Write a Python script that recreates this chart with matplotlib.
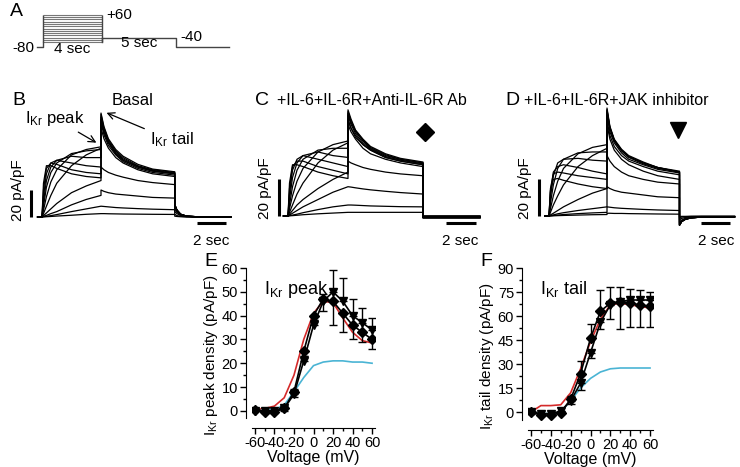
import matplotlib
matplotlib.use("Agg")
import matplotlib.pyplot as plt
from matplotlib.ticker import MultipleLocator

plt.rcParams['font.family'] = ['Liberation Sans', 'DejaVu Sans']
plt.rcParams['mathtext.default'] = 'regular'
plt.rcParams['axes.unicode_minus'] = False

# ---- panel A: voltage protocol ----
hold_v = -80
step_levels = [-60, -50, -40, -30, -20, -10, 0, 10, 20, 30, 40, 50, 60]
tail_v = -40
step_dur = 4.0
tail_dur = 5.0

# ---- panels B-D: current traces (pA/pF), one row per step voltage +60 ... -40 ----
hold_t = [-0.3, 0.0]
step_t = [0.0, 0.1, 0.3, 0.6, 1.0, 2.0, 3.0, 4.0]
tail_t = [4.0, 4.2, 4.5, 5.0, 5.5, 6.5, 7.5, 9.0]
post_t = [9.0, 9.15, 9.4, 9.8, 10.5, 12.8]

basal_step = [
    [0, 25, 38, 38, 36, 32, 30, 29],
    [0, 20, 36, 40, 39, 35, 33, 32],
    [0, 15, 32, 40, 42, 40, 38, 37],
    [0, 11, 27, 37, 42, 45, 44, 44],
    [0, 8, 22, 33, 40, 47, 49, 50],
    [0, 5, 15, 26, 35, 46, 50, 52],
    [0, 2.5, 8, 16, 25, 38, 46, 51],
    [0, 1, 3, 6, 10, 18, 23, 27],
    [0, 0.5, 1.2, 2.5, 4, 9, 13, 16],
    [0, 0.2, 0.5, 1, 1.8, 4, 6, 8],
    [0, 0.1, 0.2, 0.4, 0.7, 1.3, 2, 2.5],
]
basal_tail = [
    [66, 58, 51, 44, 40, 35, 32, 30],
    [70, 61, 53, 46, 41, 36, 33, 31],
    [72, 63, 55, 47, 42, 37, 34, 32],
    [74, 65, 56, 48, 43, 37.5, 34.5, 32.5],
    [76, 66, 57, 49, 44, 38, 35, 33],
    [77, 67, 58, 50, 45, 39, 35.5, 33.5],
    [72, 63, 55, 47, 42, 37, 34, 32],
    [37, 35, 33, 31, 29.5, 27, 25.5, 24],
    [20, 19, 18, 17, 16.5, 15.5, 14.5, 14],
    [8, 7.8, 7.5, 7, 6.7, 6.2, 5.8, 5.4],
    [2.5, 2.5, 2.4, 2.3, 2.2, 2.1, 2.0, 1.9],
]
basal_post = [
    [9, 5, 2, 0.6, 0.2, 0],
    [9, 5, 2, 0.6, 0.2, 0],
    [9, 5, 2, 0.6, 0.2, 0],
    [9, 5, 2, 0.6, 0.2, 0],
    [9, 5, 2, 0.6, 0.2, 0],
    [9, 5, 2, 0.6, 0.2, 0],
    [9, 5, 2, 0.6, 0.2, 0],
    [6, 3.5, 1.5, 0.5, 0.1, 0],
    [4, 2.5, 1, 0.3, 0, 0],
    [2, 1, 0.5, 0.2, 0, 0],
    [0.6, 0.4, 0.2, 0, 0, 0],
]

ab_step = [
    [0, 18, 28, 28, 27, 24, 22, 20.5],
    [0, 15, 27, 30, 30, 27, 25, 23],
    [0, 12, 25, 31, 33, 31, 29, 27],
    [0, 9, 21, 29, 33, 35, 33, 32],
    [0, 6, 16, 25, 31, 36, 37, 37],
    [0, 4, 11, 19, 26, 35, 39, 41],
    [0, 2, 6, 12, 18, 29, 36, 40],
    [0, 1, 3, 6, 9, 15, 20, 24],
    [0, 0.5, 1.5, 3, 5, 9, 13, 16],
    [0, 0.2, 0.5, 1, 1.8, 3.5, 5, 6],
    [0, 0.1, 0.2, 0.4, 0.7, 1.2, 1.6, 2],
]
ab_tail = [
    [50, 46, 42, 37, 34, 31, 29, 27],
    [53, 48, 44, 39, 36, 32, 30, 28],
    [55, 50, 45, 40, 36.5, 32.5, 30.5, 28.5],
    [56, 51, 46, 41, 37, 33, 31, 29],
    [57, 52, 46.5, 41.5, 37.5, 33.5, 31, 29],
    [58, 53, 47, 42, 38, 34, 31.5, 29.5],
    [52, 48, 43, 39, 36, 32, 30, 28],
    [30, 29, 28, 26.5, 25.5, 24, 23, 22],
    [16, 15.8, 15.4, 14.8, 14.3, 13.5, 12.8, 12],
    [6, 6, 5.9, 5.7, 5.5, 5.3, 5.1, 5],
    [2, 2, 2, 2, 2, 2, 2, 2],
]
ab_post = [
    [-1, -1, -1, -1, -1, -1],
    [-1, -1, -1, -1, -1, -1],
    [-1, -1, -1, -1, -1, -1],
    [-0.8, -0.8, -0.8, -0.8, -0.8, -0.8],
    [-0.8, -0.8, -0.8, -0.8, -0.8, -0.8],
    [-0.6, -0.6, -0.6, -0.6, -0.6, -0.6],
    [-0.6, -0.6, -0.6, -0.6, -0.6, -0.6],
    [-0.4, -0.4, -0.4, -0.4, -0.4, -0.4],
    [-0.2, -0.2, -0.2, -0.2, -0.2, -0.2],
    [0, 0, 0, 0, 0, 0],
    [0, 0, 0, 0, 0, 0],
]

jak_step = [
    [0, 14, 20, 20.5, 19.5, 17.5, 16, 15],
    [0, 15, 23, 24, 23.5, 22, 21, 20],
    [0, 13, 24, 27, 28, 26.5, 24.5, 23],
    [0, 10, 22, 29, 31, 31.5, 30.5, 30],
    [0, 7, 17, 26, 31, 34.5, 35, 35],
    [0, 4, 11, 19, 26, 34, 37.5, 39],
    [0, 2, 6, 11, 17, 27, 33, 37],
    [0, 0.6, 1.5, 3, 5, 9, 12.5, 15],
    [0, 0.3, 0.6, 1.2, 1.8, 3, 4, 5],
    [0, 0.1, 0.3, 0.5, 0.8, 1.3, 1.7, 2],
    [0, 0, 0.1, 0.2, 0.3, 0.5, 0.7, 0.8],
]
jak_tail = [
    [52, 44, 38, 33, 30, 27, 24.5, 22.5],
    [55, 46, 40, 34.5, 31, 28, 25.5, 23.5],
    [57, 48, 41, 35.5, 32, 28.5, 26, 24],
    [58, 48.5, 41.5, 36, 32.5, 29, 26.5, 24],
    [59, 49, 42, 36.5, 33, 29.5, 26.5, 24.5],
    [58, 48, 41.5, 36, 32.5, 29, 26.5, 24],
    [50, 42, 36, 31, 28, 24.5, 22, 20],
    [33, 30, 27, 24, 22, 20, 18.5, 17.5],
    [16, 15, 14, 13, 12.5, 11.5, 10.5, 10],
    [5, 4.8, 4.5, 4.2, 4, 3.6, 3.3, 3],
    [1.5, 1.5, 1.4, 1.4, 1.3, 1.2, 1.1, 1],
]
jak_post = [
    [-5, -3, -1.8, -1, -0.6, -0.5],
    [-5, -3, -1.8, -1, -0.6, -0.5],
    [-5, -3, -1.8, -1, -0.6, -0.5],
    [-5, -3, -1.8, -1, -0.6, -0.5],
    [-5, -3, -1.8, -1, -0.6, -0.5],
    [-5, -3, -1.8, -1, -0.6, -0.5],
    [-4.5, -2.8, -1.6, -0.9, -0.6, -0.5],
    [-3.5, -2.2, -1.3, -0.8, -0.5, -0.4],
    [-2, -1.3, -0.8, -0.5, -0.3, -0.3],
    [-1, -0.6, -0.4, -0.3, -0.2, -0.2],
    [-0.3, -0.2, -0.2, -0.1, -0.1, -0.1],
]

# ---- panels E, F: I-V relations ----
voltages = [-60, -50, -40, -30, -20, -10, 0, 10, 20, 30, 40, 50, 60]

peak_basal = [0.5, 1, 2, 5.5, 15, 30, 41, 46, 45.5, 39, 33, 29.5, 28.5]
peak_il6 = [0.2, 0.2, 0.5, 2.5, 8, 14, 19, 20.5, 21, 21, 20.5, 20.5, 20]
peak_ab = [0.5, -0.5, -0.5, 1, 8, 25, 40, 47, 46, 41, 36, 33, 30]
peak_ab_sem = [0.5, 0.5, 0.5, 1, 2, 2, 2, 5, 10, 8, 6, 4, 4]
peak_jak = [0, 0, 0, 1, 7, 21, 36, 46, 50, 46, 40, 37, 34]
peak_jak_sem = [0.5, 0.5, 0.5, 1, 2, 2, 2, 3, 9, 10, 7, 6, 5]

tail_basal = [0, 4, 4, 4.5, 12, 27, 44, 58, 67, 68, 67, 66, 65]
tail_il6 = [0, -1, -1, 0, 7, 15, 21, 25, 27, 27.5, 27.5, 27.5, 27.5]
tail_ab = [0, -2, -2, -0.5, 8, 24, 46, 63, 68, 69, 68, 67, 66]
tail_ab_sem = [1, 1, 1, 1, 2, 8, 9, 13, 10, 9, 9, 9, 9]
tail_jak = [0, -1, -1, 0.5, 7, 18, 37, 56, 67, 69, 70, 70, 70]
tail_jak_sem = [1, 1, 1, 1, 2, 4, 3, 4, 9, 17, 17, 17, 17]

W, H = 740, 467
fig = plt.figure(figsize=(W / 100, H / 100), dpi=100)


def px_axes(left, top, right, bottom):
    return fig.add_axes([left / W, 1 - bottom / H, (right - left) / W, (bottom - top) / H])


def trace_axes(t0_px, sx, base_px, sy, tlim, vlim):
    # base_px = pixel row of value 0, sy = pixels per unit
    ax = px_axes(t0_px + tlim[0] * sx, base_px - vlim[1] * sy,
                 t0_px + tlim[1] * sx, base_px - vlim[0] * sy)
    ax.set_xlim(tlim)
    ax.set_ylim(vlim)
    ax.set_axis_off()
    return ax


def draw_traces(ax, steps, tails, posts):
    for s, tl, p in zip(steps, tails, posts):
        t = hold_t + step_t + tail_t + post_t
        v = [0, 0] + s + tl + p
        ax.plot(t, v, color='black', lw=0.9)


def scale_bars(ax, xbar, ybar, ytxt, xlab, ylab):
    ax.plot([xbar, xbar], [0, 20], color='black', lw=2.2, solid_capstyle='butt', clip_on=False)
    ax.plot([10.5, 12.5], [ybar, ybar], color='black', lw=2.2, solid_capstyle='butt', clip_on=False)
    ax.text(11.5, ytxt, '2 sec', ha='center', va='top', fontsize=11, clip_on=False)
    ax.text(xlab, ylab, '20 pA/pF', rotation=90, ha='center', va='center', fontsize=11, clip_on=False)


# panel A
ax_a = trace_axes(43, 14.75, 47 - 80 * 0.23, 0.23, (-2, 13), (-100, 70))
ax_a.hlines(step_levels, 0, step_dur, color='#777777', lw=0.8)
ax_a.vlines([0, step_dur], step_levels[0], step_levels[-1], color='#444444', lw=1)
ax_a.plot([-0.4, 0, 0], [hold_v, hold_v, step_levels[0]], color='#444444', lw=1)
ax_a.plot([step_dur, step_dur + tail_dur, step_dur + tail_dur, 12.6],
          [tail_v, tail_v, hold_v, hold_v], color='#444444', lw=1)
ax_a.plot([step_dur, step_dur], [step_levels[0], tail_v], color='#444444', lw=1)
ax_a.text(-0.6, hold_v - 4, '-80', ha='right', va='center', fontsize=11)
ax_a.text(step_dur + 0.3, step_levels[-1], '+60', ha='left', va='center', fontsize=11)
ax_a.text(step_dur / 2, hold_v - 8, '4 sec', ha='center', va='center', fontsize=11)
ax_a.text(step_dur + tail_dur / 2, tail_v - 22, '5 sec', ha='center', va='center', fontsize=11)
ax_a.text(step_dur + tail_dur + 0.3, tail_v + 2, '-40', ha='left', va='center', fontsize=11)

# panel B
ax_b = trace_axes(42, 14.75, 217, 1.35, (-2, 13), (-15, 85))
draw_traces(ax_b, basal_step, basal_tail, basal_post)
scale_bars(ax_b, -0.75, -4.5, -12.5, -1.6, 20)
ax_b.annotate(r'I$_{Kr}$ peak', xy=(3.85, 54), xytext=(-1.15, 73), fontsize=12,
              va='center', arrowprops=dict(arrowstyle='->', lw=0.9, color='black'))
ax_b.annotate(r'I$_{Kr}$ tail', xy=(4.2, 78), xytext=(7.3, 57), fontsize=12,
              va='center', arrowprops=dict(arrowstyle='->', lw=0.9, color='black'))

# panel C
ax_c = trace_axes(288, 15, 216, 1.83, (-2, 13), (-12, 60))
draw_traces(ax_c, ab_step, ab_tail, ab_post)
scale_bars(ax_c, -0.6, -3.8, -9.8, -1.5, 15)
ax_c.plot([9.1], [46], marker='D', color='black', ms=9, clip_on=False)

# panel D
ax_d = trace_axes(549, 14.5, 216, 1.83, (-2, 13), (-12, 60))
draw_traces(ax_d, jak_step, jak_tail, jak_post)
scale_bars(ax_d, -0.7, -3.8, -9.8, -1.65, 15)
ax_d.plot([8.9], [47], marker='v', color='black', ms=11, clip_on=False)

# panel titles / letters
fig.text(10 / W, 1 - 12 / H, 'A', fontsize=14, va='center')
fig.text(12 / W, 1 - 100 / H, 'B', fontsize=14, va='center')
fig.text(255 / W, 1 - 100 / H, 'C', fontsize=14, va='center')
fig.text(505 / W, 1 - 100 / H, 'D', fontsize=14, va='center')
fig.text(133 / W, 1 - 100 / H, 'Basal', fontsize=12, ha='center', va='center')
fig.text(372 / W, 1 - 100 / H, '+IL-6+IL-6R+Anti-IL-6R Ab', fontsize=11.5, ha='center', va='center')
fig.text(616 / W, 1 - 100 / H, '+IL-6+IL-6R+JAK inhibitor', fontsize=11.5, ha='center', va='center')
fig.text(204 / W, 1 - 262 / H, 'E', fontsize=14, va='center')
fig.text(480 / W, 1 - 262 / H, 'F', fontsize=14, va='center')


def iv_axes(ax, basal, il6, ab, ab_sem, jak, jak_sem, ab_up, ylabel, inner, ymax, ystep):
    ax.plot(voltages, basal, color='#d42a2a', lw=1.2, zorder=2)
    ax.plot(voltages, il6, color='#4ab4d4', lw=1.2, zorder=2)
    zeros = [0] * len(voltages)
    ab_err = [zeros, ab_sem] if ab_up else [ab_sem, zeros]
    jak_err = [jak_sem, zeros] if ab_up else [zeros, jak_sem]
    ax.errorbar(voltages, ab, yerr=ab_err, color='black', marker='D', ms=5, lw=1.2,
                capsize=3, elinewidth=1, zorder=3)
    ax.errorbar(voltages, jak, yerr=jak_err, color='black', marker='v', ms=6, lw=1.2,
                capsize=3, elinewidth=1, zorder=3)
    for side in ('top', 'right'):
        ax.spines[side].set_visible(False)
    ax.spines['left'].set_position(('outward', 4))
    ax.spines['bottom'].set_position(('outward', 7))
    ax.set_xlim(-63, 63)
    ax.set_xticks([-60, -40, -20, 0, 20, 40, 60])
    ax.xaxis.set_minor_locator(MultipleLocator(10))
    ax.set_yticks(list(range(0, ymax + 1, ystep)))
    ax.yaxis.set_minor_locator(MultipleLocator(ystep / 2))
    ax.tick_params(which='both', direction='out', labelsize=10.5, width=1, pad=2)
    ax.tick_params(which='major', length=4)
    ax.tick_params(which='minor', length=2.5)
    ax.set_xlabel('Voltage (mV)', fontsize=11.5, labelpad=0)
    ax.set_ylabel(ylabel, fontsize=11, labelpad=2)
    ax.yaxis.set_label_coords(-0.26, 0.42)
    ax.text(0.1, 0.86, inner, transform=ax.transAxes, fontsize=13, va='center')


ax_e = px_axes(252, 268, 375, 418)
iv_axes(ax_e, peak_basal, peak_il6, peak_ab, peak_ab_sem, peak_jak, peak_jak_sem, False,
        r'I$_{Kr}$ peak density (pA/pF)', r'I$_{Kr}$ peak', 60, 10)
ax_e.set_ylim(-3, 60)

ax_f = px_axes(528, 268, 653, 420)
iv_axes(ax_f, tail_basal, tail_il6, tail_ab, tail_ab_sem, tail_jak, tail_jak_sem, True,
        r'I$_{Kr}$ tail density (pA/pF)', r'I$_{Kr}$ tail', 90, 15)
ax_f.set_ylim(-5, 90)

fig.savefig('out.png', dpi=100)
